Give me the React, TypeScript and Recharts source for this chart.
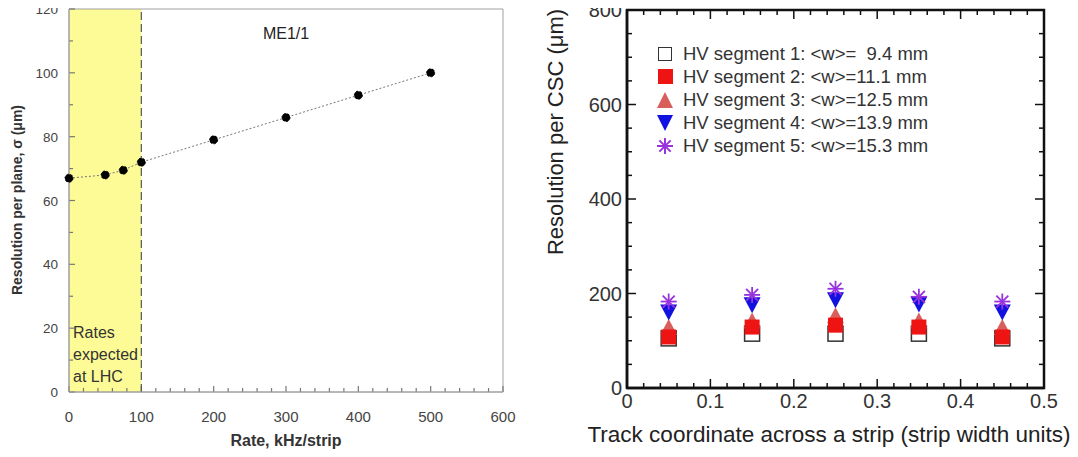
import React from "react";
import {
  LineChart,
  Line,
  ScatterChart,
  Scatter,
  XAxis,
  YAxis,
  ReferenceArea,
  ReferenceLine,
  ReferenceDot,
  Legend,
} from "recharts";

const FONT = "'Liberation Sans', Arial, sans-serif";

// left panel: resolution vs rate (ME1/1)
const RATES = [0, 50, 75, 100, 200, 300, 400, 500];
const SIGMA = [67, 68, 69.5, 72, 79, 86, 93, 100];
const RATE_TICKS = [
  0, 20, 40, 60, 80, 100, 120, 140, 160, 180, 200, 220, 240, 260, 280, 300,
  320, 340, 360, 380, 400, 420, 440, 460, 480, 500, 520, 540, 560, 580, 600,
];
const SIGMA_TICKS = [0, 10, 20, 30, 40, 50, 60, 70, 80, 90, 100, 110, 120];

// right panel: resolution per CSC vs track coordinate
const COORD = [0.05, 0.15, 0.25, 0.35, 0.45];
const SEG1 = [105, 115, 115, 115, 105];
const SEG2 = [108, 129, 133, 129, 108];
const SEG3 = [127, 141, 152, 141, 127];
const SEG4 = [162, 177, 188, 179, 162];
const SEG5 = [183, 197, 210, 193, 183];
const SEG_NAMES = [
  "HV segment 1: <w>=  9.4 mm",
  "HV segment 2: <w>=11.1 mm",
  "HV segment 3: <w>=12.5 mm",
  "HV segment 4: <w>=13.9 mm",
  "HV segment 5: <w>=15.3 mm",
];
const COORD_TICKS = [
  0, 0.02, 0.04, 0.06, 0.08, 0.1, 0.12, 0.14, 0.16, 0.18, 0.2, 0.22, 0.24,
  0.26, 0.28, 0.3, 0.32, 0.34, 0.36, 0.38, 0.4, 0.42, 0.44, 0.46, 0.48, 0.5,
];
const CSC_TICKS = [
  0, 50, 100, 150, 200, 250, 300, 350, 400, 450, 500, 550, 600, 650, 700, 750,
  800,
];

const leftData = RATES.map((r, i) => ({ rate: r, sigma: SIGMA[i] }));
const toPts = (vals: number[]) => COORD.map((x, i) => ({ x, y: vals[i] }));

const SERIES = [
  { name: SEG_NAMES[0], data: toPts(SEG1), kind: "open", color: "#333" },
  { name: SEG_NAMES[1], data: toPts(SEG2), kind: "square", color: "#ee1414" },
  { name: SEG_NAMES[2], data: toPts(SEG3), kind: "up", color: "#d95f5c" },
  { name: SEG_NAMES[3], data: toPts(SEG4), kind: "down", color: "#1212e0" },
  { name: SEG_NAMES[4], data: toPts(SEG5), kind: "star", color: "#9933dd" },
];
// draw order so the red squares sit over the open ones
const DRAW_ORDER = [0, 2, 1, 3, 4];

// plot sizes in px, used to turn tick lengths into axis units
const L_PLOT = { w: 434, h: 383 };
const R_PLOT = { w: 417, h: 378 };

const marker = (kind: string, color: string, cx: number, cy: number) => {
  const s = 7.5;
  if (kind === "open")
    return <rect x={cx - s} y={cy - s} width={2 * s} height={2 * s} fill="#fff" stroke={color} strokeWidth={1.5} />;
  if (kind === "square")
    return <rect x={cx - s} y={cy - s} width={2 * s} height={2 * s} fill={color} />;
  if (kind === "up")
    return <polygon points={`${cx},${cy - 9} ${cx + 8.5},${cy + 7} ${cx - 8.5},${cy + 7}`} fill={color} />;
  if (kind === "down")
    return <polygon points={`${cx},${cy + 9} ${cx + 8.5},${cy - 7} ${cx - 8.5},${cy - 7}`} fill={color} />;
  return (
    <g stroke={color} strokeWidth={1.8}>
      <line x1={cx - 8} x2={cx + 8} y1={cy} y2={cy} />
      <line x1={cx} x2={cx} y1={cy - 8} y2={cy + 8} />
      <line x1={cx - 6} x2={cx + 6} y1={cy - 6} y2={cy + 6} />
      <line x1={cx - 6} x2={cx + 6} y1={cy + 6} y2={cy - 6} />
    </g>
  );
};

// legend icons in plain css
const legendIcon = (kind: string, color: string) => {
  const box: React.CSSProperties = { width: 20, height: 20, position: "relative", marginRight: 8, flex: "none" };
  if (kind === "open")
    return <div style={box}><div style={{ position: "absolute", left: 3, top: 3, width: 12, height: 12, border: `1.5px solid ${color}`, background: "#fff" }} /></div>;
  if (kind === "square")
    return <div style={box}><div style={{ position: "absolute", left: 2.5, top: 2.5, width: 15, height: 15, background: color }} /></div>;
  if (kind === "up" || kind === "down") {
    const edge = `16px solid ${color}`;
    return (
      <div style={box}>
        <div style={{ position: "absolute", left: 1.5, top: 2, width: 0, height: 0, borderLeft: "8.5px solid transparent", borderRight: "8.5px solid transparent", ...(kind === "up" ? { borderBottom: edge } : { borderTop: edge }) }} />
      </div>
    );
  }
  return (
    <div style={box}>
      {[0, 45, 90, 135].map((a) => (
        <div key={a} style={{ position: "absolute", left: 2, top: 9, width: 16, height: 2, background: color, transform: `rotate(${a}deg)` }} />
      ))}
    </div>
  );
};

// ---- tick labels only; tick marks are drawn as reference segments ----
const leftYTick = (p: any) =>
  p.payload.value % 20 === 0 ? (
    <text x={Number(p.x) - 11} y={Number(p.y) + 5} textAnchor="end" fontSize={13.5} fill="#444" fontFamily={FONT}>
      {p.payload.value}
    </text>
  ) : (
    <g />
  );

const leftXTick = (p: any) =>
  p.payload.value % 100 === 0 ? (
    <text x={Number(p.x)} y={Number(p.y) + 30} textAnchor="middle" fontSize={15} fill="#444" fontFamily={FONT}>
      {p.payload.value}
    </text>
  ) : (
    <g />
  );

const isMajorCoord = (v: number) => Math.abs(v * 10 - Math.round(v * 10)) < 1e-6;

const rightXTick = (p: any) => {
  const v = p.payload.value;
  return isMajorCoord(v) ? (
    <text x={Number(p.x)} y={Number(p.y) + 20} textAnchor="middle" fontSize={20} fill="#333" fontFamily={FONT}>
      {v === 0 ? "0" : v.toFixed(1)}
    </text>
  ) : (
    <g />
  );
};

const rightYTick = (p: any) =>
  p.payload.value % 200 === 0 ? (
    <text x={Number(p.x) - 5} y={Number(p.y) + 7} textAnchor="end" fontSize={20} fill="#333" fontFamily={FONT}>
      {p.payload.value}
    </text>
  ) : (
    <g />
  );

const ratesLabel = ({ viewBox }: any) => {
  const x = viewBox.x + 4;
  const b = viewBox.y + viewBox.height;
  return (
    <text fontSize={16} fill="#333" fontFamily={FONT}>
      <tspan x={x} y={b - 54}>Rates</tspan>
      <tspan x={x} y={b - 32}>expected</tspan>
      <tspan x={x} y={b - 10}>at LHC</tspan>
    </text>
  );
};

const SegLegend = () => (
  <div style={{ fontFamily: FONT, fontSize: 18.5, color: "#333", lineHeight: "23.1px" }}>
    {SERIES.map((s) => (
      <div key={s.name} style={{ display: "flex", alignItems: "center", whiteSpace: "pre" }}>
        {legendIcon(s.kind, s.color)}
        <span>{s.name}</span>
      </div>
    ))}
  </div>
);

const title = (style: React.CSSProperties): React.CSSProperties => ({
  position: "absolute",
  fontFamily: FONT,
  whiteSpace: "nowrap",
  lineHeight: 1,
  ...style,
});

// inward tick segments for the left panel
const leftTickLines = () => {
  const out: React.ReactNode[] = [];
  RATE_TICKS.forEach((v) => {
    const len = ((v % 100 === 0 ? 6 : 4) / L_PLOT.h) * 120;
    out.push(<ReferenceLine key={`lx${v}`} segment={[{ x: v, y: 0 }, { x: v, y: len }]} stroke="#777" strokeWidth={1.2} ifOverflow="visible" />);
  });
  SIGMA_TICKS.forEach((v) => {
    const len = ((v % 20 === 0 ? 6 : 4) / L_PLOT.w) * 600;
    out.push(<ReferenceLine key={`ly${v}`} segment={[{ x: 0, y: v }, { x: len, y: v }]} stroke="#777" strokeWidth={1.2} ifOverflow="visible" />);
  });
  return out;
};

// inward ticks on all four sides of the right panel
const rightTickLines = () => {
  const out: React.ReactNode[] = [];
  COORD_TICKS.forEach((v) => {
    const len = ((isMajorCoord(v) ? 9 : 5) / R_PLOT.h) * 800;
    out.push(<ReferenceLine key={`rb${v}`} segment={[{ x: v, y: 0 }, { x: v, y: len }]} stroke="#111" strokeWidth={1.5} ifOverflow="visible" />);
    out.push(<ReferenceLine key={`rt${v}`} segment={[{ x: v, y: 800 }, { x: v, y: 800 - len }]} stroke="#111" strokeWidth={1.5} ifOverflow="visible" />);
  });
  CSC_TICKS.forEach((v) => {
    const len = ((v % 200 === 0 ? 9 : 5) / R_PLOT.w) * 0.5;
    out.push(<ReferenceLine key={`rl${v}`} segment={[{ x: 0, y: v }, { x: len, y: v }]} stroke="#111" strokeWidth={1.5} ifOverflow="visible" />);
    out.push(<ReferenceLine key={`rr${v}`} segment={[{ x: 0.5, y: v }, { x: 0.5 - len, y: v }]} stroke="#111" strokeWidth={1.5} ifOverflow="visible" />);
  });
  return out;
};

export default function App() {
  return (
    <div style={{ display: "flex", margin: "-8px 0 0 -8px", width: 1078, height: 457, overflow: "hidden", background: "#fff" }}>
      <div style={{ position: "relative", width: 540, height: 457, flex: "none" }}>
        <LineChart width={540} height={457} data={leftData} margin={{ top: 9, right: 37, left: 0, bottom: 0 }}>
          <ReferenceArea x1={0} x2={100} y1={0} y2={120} fill="#fdfb96" fillOpacity={1} stroke="none" label={{ content: ratesLabel }} />
          <ReferenceArea x1={0} x2={600} y1={0} y2={120} fill="none" stroke="#a0a0a0" />
          {leftTickLines()}
          <ReferenceLine x={100} stroke="#555" strokeDasharray="8 4" strokeWidth={1.2} />
          <ReferenceDot x={300} y={112.5} r={0} fill="none" stroke="none" label={{ value: "ME1/1", position: "center", fontSize: 16, fill: "#222", fontFamily: FONT }} />
          <XAxis
            dataKey="rate"
            type="number"
            domain={[0, 600]}
            ticks={RATE_TICKS}
            interval={0}
            height={65}
            tickSize={0}
            tickMargin={0}
            tickLine={false}
            axisLine={{ stroke: "#a0a0a0" }}
            tick={leftXTick}
          />
          <YAxis
            type="number"
            domain={[0, 120]}
            ticks={SIGMA_TICKS}
            interval={0}
            width={69}
            tickSize={0}
            tickMargin={0}
            tickLine={false}
            axisLine={{ stroke: "#a0a0a0" }}
            tick={leftYTick}
          />
          <Line
            dataKey="sigma"
            type="linear"
            stroke="#777"
            strokeWidth={1}
            strokeDasharray="2 2"
            dot={{ r: 4, fill: "#000", stroke: "#000" }}
            isAnimationActive={false}
          />
        </LineChart>
        <div style={title({ left: 286, top: 433, transform: "translateX(-50%)", fontSize: 16, fontWeight: "bold", color: "#333" })}>
          Rate, kHz/strip
        </div>
        <div style={title({ left: 17, top: 200, transform: "translate(-50%, -50%) rotate(-90deg)", fontSize: 14, fontWeight: "bold", color: "#333" })}>
          Resolution per plane, σ (μm)
        </div>
      </div>
      <div style={{ position: "relative", width: 538, height: 457, flex: "none" }}>
        <ScatterChart width={538} height={457} margin={{ top: 10, right: 34, left: 0, bottom: 0 }}>
          <XAxis
            dataKey="x"
            type="number"
            domain={[0, 0.5]}
            ticks={COORD_TICKS}
            interval={0}
            height={69}
            tickSize={0}
            tickMargin={0}
            tickLine={false}
            axisLine={{ stroke: "#111", strokeWidth: 2.5 }}
            tick={rightXTick}
          />
          <YAxis
            dataKey="y"
            type="number"
            domain={[0, 800]}
            ticks={CSC_TICKS}
            interval={0}
            width={87}
            tickSize={0}
            tickMargin={0}
            tickLine={false}
            axisLine={{ stroke: "#111", strokeWidth: 2.5 }}
            tick={rightYTick}
          />
          <ReferenceArea x1={0} x2={0.5} y1={0} y2={800} fill="none" stroke="#111" strokeWidth={2.5} ifOverflow="visible" />
          {rightTickLines()}
          {DRAW_ORDER.map((i) => {
            const s = SERIES[i];
            return (
              <Scatter
                key={s.name}
                name={s.name}
                data={s.data}
                fill={s.color}
                shape={(p: any) => marker(s.kind, s.color, p.cx, p.cy)}
                isAnimationActive={false}
              />
            );
          })}
          <Legend
            layout="vertical"
            align="center"
            verticalAlign="middle"
            content={() => <SegLegend />}
            wrapperStyle={{ top: 42, left: 115, width: "auto" }}
          />
        </ScatterChart>
        <div style={title({ left: 289, top: 424, transform: "translateX(-50%)", fontSize: 22.5, color: "#222" })}>
          Track coordinate across a strip (strip width units)
        </div>
        <div style={title({ left: 16, top: 132, transform: "translate(-50%, -50%) rotate(-90deg)", fontSize: 22, color: "#222" })}>
          Resolution per CSC (μm)
        </div>
      </div>
    </div>
  );
}
